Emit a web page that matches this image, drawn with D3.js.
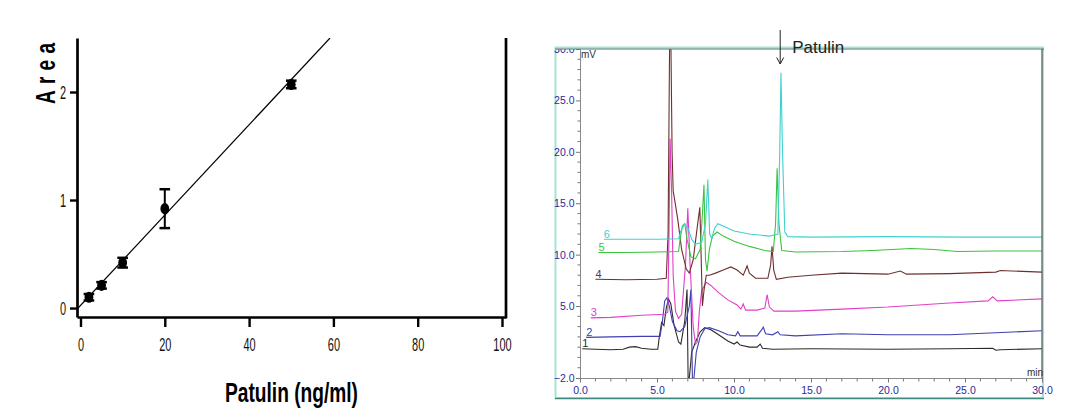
<!DOCTYPE html>
<html><head><meta charset="utf-8">
<script src="https://cdn.jsdelivr.net/npm/d3@7"></script>
<style>body{margin:0;background:#fff}svg{display:block}text{font-family:"Liberation Sans",Arial,sans-serif}</style>
</head><body><svg id="c" width="1077" height="420"></svg>
<script>
// ---------- calibration curve data ----------
const concentrations = [2, 5, 10, 20, 50];
const areaMeans = [0.10, 0.21, 0.42, 0.92, 2.07];
const areaErrors = [0.03, 0.03, 0.045, 0.18, 0.035];
const fitX = [-0.8, 59.2];
const fitY = [-0.01, 2.5];
const calXTicks = [0, 20, 40, 60, 80, 100];
const calYTicks = [0, 1, 2];
const calXTitle = "Patulin (ng/ml)";
const calYTitle = "Area";

// ---------- chromatogram data (time min, mV) ----------
const traceNames = ["1", "2", "3", "4", "5", "6"];
const traceColors = ["#2b2b2b", "#4040b0", "#e040c8", "#6e2f2f", "#3cc43c", "#40d0d0"];
const trace1 = [[0.15,0.85],[1,0.8],[2,0.75],[2.8,0.8],[3.2,1.0],[3.6,1.05],[4.0,0.9],[4.6,0.8],[5.05,0.8],[5.15,2.0],[5.3,3.4],[5.45,3.1],[5.6,4.8],[5.75,5.7],[5.9,5.2],[6.1,3.2],[6.4,1.5],[6.55,1.3],[6.8,3.5],[6.95,6.6],[7.02,-2.0],[7.1,-2.0],[7.25,0.5],[7.5,1.5],[7.8,2.5],[8.1,2.9],[8.5,2.7],[9.0,2.2],[9.6,1.6],[10.0,1.3],[10.2,1.5],[10.4,1.2],[11.0,1.0],[11.5,1.0],[11.7,1.3],[11.85,0.9],[12.5,0.8],[15,0.85],[20,0.8],[24,0.85],[26.8,0.9],[27.0,0.7],[27.3,0.75],[30,0.85]];
const trace2 = [[0.4,1.95],[2,2.0],[4,2.05],[5.2,2.05],[5.35,3.5],[5.5,5.5],[5.65,5.8],[5.8,5.0],[6.0,3.5],[6.3,2.6],[6.5,2.5],[6.8,3.0],[7.1,5.0],[7.2,6.6],[7.3,-2.0],[7.4,-2.0],[7.55,0.5],[7.8,2.0],[8.1,2.8],[8.4,2.9],[9.0,2.6],[9.6,2.2],[10.1,2.1],[10.25,2.5],[10.4,2.1],[11.5,2.1],[11.8,2.7],[11.9,2.95],[12.05,2.3],[12.5,2.2],[12.85,2.5],[13.0,2.2],[14,2.1],[17,2.3],[20,2.2],[24,2.2],[27,2.4],[30,2.6]];
const trace3 = [[0.7,3.85],[2,3.9],[4,4.1],[5.5,4.2],[5.7,4.4],[5.78,12],[5.85,21.3],[5.95,16],[6.05,8],[6.2,4.5],[6.4,3.8],[6.6,4.2],[6.85,9],[7.0,14.5],[7.15,9],[7.35,3.0],[7.5,1.3],[7.62,1.5],[7.75,4.5],[7.9,6.5],[8.2,7.3],[8.5,7.0],[9.0,6.3],[9.6,5.6],[10.2,5.1],[10.45,4.7],[10.6,5.2],[10.75,4.6],[11.5,4.6],[12.0,4.8],[12.15,6.1],[12.3,4.9],[12.6,4.5],[14,4.5],[17,4.7],[20,4.9],[24,5.3],[26.5,5.5],[26.8,5.9],[27.1,5.5],[30,5.7]];
const trace4 = [[1.0,7.6],[3,7.55],[5,7.6],[5.6,7.7],[5.72,12],[5.82,31],[5.9,31],[5.98,20],[6.05,16.2],[6.15,15.3],[6.35,13.4],[6.6,10.5],[6.9,8.6],[7.1,8.2],[7.35,9.5],[7.6,12.5],[7.78,14.6],[7.88,9],[7.95,5.0],[8.05,6.5],[8.2,8.0],[8.4,8.0],[8.8,8.2],[9.3,8.5],[9.8,8.8],[10.2,8.5],[10.6,8.0],[10.85,8.9],[11.0,8.2],[11.4,7.7],[12.2,7.7],[12.38,9.0],[12.47,10.8],[12.58,8.5],[12.75,7.6],[13.5,7.8],[15,8.0],[17,8.2],[20,8.1],[20.8,8.4],[21.2,8.1],[24,8.15],[27,8.3],[27.3,8.45],[30,8.3]];
const trace5 = [[1.2,10.2],[3,10.2],[5,10.25],[6.4,10.3],[6.5,11.5],[6.65,12.8],[6.8,13.0],[6.95,11.5],[7.2,9.8],[7.5,9.6],[7.8,10.5],[7.95,14],[8.05,16.8],[8.15,9.5],[8.25,8.4],[8.4,10.5],[8.6,11.8],[8.9,12.2],[9.3,11.8],[10,11.3],[11,10.8],[12,10.4],[12.55,10.3],[12.7,13],[12.8,18.4],[12.92,13],[13.1,10.4],[14,10.25],[17,10.3],[19,10.4],[21.5,10.6],[23,10.5],[24.5,10.3],[27,10.35],[30,10.35]];
const trace6 = [[1.55,11.5],[3,11.5],[5,11.5],[6.4,11.55],[6.55,12.3],[6.8,13.0],[7.0,12.6],[7.25,11.5],[7.5,11.0],[7.9,11.2],[8.15,13],[8.3,17.3],[8.42,12],[8.55,11.6],[8.75,12.6],[8.95,13.0],[9.4,12.7],[10,12.3],[11,12.0],[12.3,11.8],[12.85,12.0],[12.97,20],[13.05,27.7],[13.15,20],[13.3,12.2],[13.5,11.75],[15,11.7],[20,11.75],[25,11.7],[30,11.7]];
const traces = [trace1, trace2, trace3, trace4, trace5, trace6];
const chromXTicks = [0, 5, 10, 15, 20, 25, 30];
const chromYTicks = [-2, 5, 10, 15, 20, 25, 30];
const chromXMinor = [1,2,3,4,6,7,8,9,11,12,13,14,16,17,18,19,21,22,23,24,26,27,28,29];
const chromYMinor = [-1,0,1,2,3,4,6,7,8,9,11,12,13,14,16,17,18,19,21,22,23,24,26,27,28,29];
const patulinRT = 13.0;
const patulinLabel = "Patulin";

const svg = d3.select("#c");
const FONT = '"Liberation Sans", Arial, sans-serif';

// ================= LEFT PANEL =================
const cx = d3.scaleLinear().domain([-0.83, 100.95]).range([77, 506]);
const cy = d3.scaleLinear().domain([-0.083, 2.5]).range([317, 38]);
const gL = svg.append("g");

svg.append("clipPath").attr("id", "clipL").append("rect")
  .attr("x", cx.range()[0]).attr("y", cy.range()[1])
  .attr("width", cx.range()[1] - cx.range()[0]).attr("height", cy.range()[0] - cy.range()[1]);

const xAx = gL.append("g").attr("transform", `translate(0,${cy.range()[0]})`)
  .call(d3.axisBottom(cx).tickValues(calXTicks).tickSize(10).tickSizeOuter(0).tickPadding(11).tickFormat(d3.format("d")));
const yAx = gL.append("g").attr("transform", `translate(${cx.range()[0]},0)`)
  .call(d3.axisLeft(cy).tickValues(calYTicks).tickSize(7).tickSizeOuter(0).tickPadding(4).tickFormat(d3.format("d")));
[xAx, yAx].forEach(a => {
  a.select(".domain").attr("stroke", "#000").attr("stroke-width", 2.7);
  a.selectAll(".tick line").attr("stroke", "#000").attr("stroke-width", 2.4);
  a.selectAll(".tick text").attr("font-family", FONT).attr("font-size", 19).attr("fill", "#111")
    .attr("textLength", d => String(d).length * 6.1).attr("lengthAdjust", "spacingAndGlyphs");
});
// right frame line
gL.append("line").attr("x1", cx.range()[1]).attr("x2", cx.range()[1])
  .attr("y1", cy.range()[1]).attr("y2", cy.range()[0] + 1.3)
  .attr("stroke", "#000").attr("stroke-width", 2.7);

// fit line
gL.append("path").attr("clip-path", "url(#clipL)")
  .datum(fitX.map((v, i) => [v, fitY[i]]))
  .attr("d", d3.line().x(d => cx(d[0])).y(d => cy(d[1])))
  .attr("fill", "none").attr("stroke", "#000").attr("stroke-width", 1.2);

// error bars
const eb = gL.append("g").selectAll("g").data(concentrations).join("g");
eb.append("line").attr("x1", d => cx(d)).attr("x2", d => cx(d))
  .attr("y1", (d, i) => cy(areaMeans[i] + areaErrors[i])).attr("y2", (d, i) => cy(areaMeans[i] - areaErrors[i]))
  .attr("stroke", "#000").attr("stroke-width", 2);
[1, -1].forEach(s => {
  eb.append("line").attr("x1", d => cx(d) - 5.3).attr("x2", d => cx(d) + 5.3)
    .attr("y1", (d, i) => cy(areaMeans[i] + s * areaErrors[i])).attr("y2", (d, i) => cy(areaMeans[i] + s * areaErrors[i]))
    .attr("stroke", "#000").attr("stroke-width", 2.5);
});
// markers
gL.append("g").selectAll("ellipse").data(concentrations).join("ellipse")
  .attr("cx", d => cx(d)).attr("cy", (d, i) => cy(areaMeans[i]))
  .attr("rx", 4.4).attr("ry", 5.6).attr("fill", "#000");

// titles
gL.append("text").attr("x", 225).attr("y", 402).attr("font-family", FONT)
  .attr("font-weight", "bold").attr("font-size", 27).attr("fill", "#000")
  .attr("textLength", 133).attr("lengthAdjust", "spacingAndGlyphs").text(calXTitle);
gL.append("text").attr("transform", "translate(55,104) rotate(-90) scale(1,1.45)")
  .attr("font-family", FONT).attr("font-weight", "bold").attr("font-size", 19).attr("fill", "#000")
  .attr("textLength", 61).attr("lengthAdjust", "spacing").text(calYTitle);

// ================= RIGHT PANEL =================
const tx = d3.scaleLinear().domain([0, 30]).range([580, 1042]);
const my = d3.scaleLinear().domain([-2, 30]).range([378, 49]);
const gR = svg.append("g");

// outer frame
gR.append("rect").attr("x", 555.5).attr("y", 47.5).attr("width", 487.5).attr("height", 350.5)
  .attr("fill", "none").attr("stroke", "#a6e3d3").attr("stroke-width", 2);
gR.append("line").attr("x1", 555).attr("x2", 1044).attr("y1", 398.5).attr("y2", 398.5)
  .attr("stroke", "#3f8a80").attr("stroke-width", 1.5);

svg.append("clipPath").attr("id", "clipR").append("rect")
  .attr("x", tx.range()[0]).attr("y", my.range()[1])
  .attr("width", tx.range()[1] - tx.range()[0]).attr("height", my.range()[0] - my.range()[1]);

// minor ticks
gR.append("g").selectAll("line").data(chromXMinor).join("line")
  .attr("x1", d => tx(d)).attr("x2", d => tx(d)).attr("y1", my(-2)).attr("y2", my(-2) + 3.5)
  .attr("stroke", "#777").attr("stroke-width", 1);
gR.append("g").selectAll("line").data(chromYMinor).join("line")
  .attr("x1", tx(0) - 2.5).attr("x2", tx(0) + 1).attr("y1", d => my(d)).attr("y2", d => my(d))
  .attr("stroke", "#777").attr("stroke-width", 1);

// tick label clip (top label cut by frame)
svg.append("clipPath").attr("id", "clipTick").append("rect")
  .attr("x", 540).attr("y", 49).attr("width", 520).attr("height", 360);

const xAxR = gR.append("g").attr("transform", `translate(0,${my(-2)})`)
  .call(d3.axisBottom(tx).tickValues(chromXTicks).tickSize(4.5).tickSizeOuter(0).tickPadding(4).tickFormat(d3.format(".1f")));
const yWrap = gR.append("g").attr("clip-path", "url(#clipTick)");
const yAxR = yWrap.append("g").attr("transform", `translate(${tx(0)},0)`)
  .call(d3.axisLeft(my).tickValues(chromYTicks).tickSize(4).tickSizeOuter(0).tickPadding(1.5).tickFormat(d3.format(".1f")));
[xAxR, yAxR].forEach(a => {
  a.select(".domain").attr("stroke", "#8a8a8a").attr("stroke-width", 1);
  a.selectAll(".tick line").attr("stroke", "#777").attr("stroke-width", 1);
  a.selectAll(".tick text").attr("font-family", FONT).attr("font-size", 10.5).attr("fill", "#2a2a9a");
});

// traces
const line = d3.line().x(d => tx(d[0])).y(d => my(d[1]));
gR.append("g").attr("clip-path", "url(#clipR)").selectAll("path").data(traces).join("path")
  .attr("d", line).attr("fill", "none")
  .attr("stroke", (d, i) => traceColors[i]).attr("stroke-width", 1.1);
// trace labels
gR.append("g").selectAll("text").data(traces).join("text")
  .attr("x", d => tx(d[0][0])).attr("y", d => my(d[0][1]) - 1.5)
  .attr("font-family", FONT).attr("font-size", 11)
  .attr("fill", (d, i) => traceColors[i]).text((d, i) => traceNames[i]);

// inner frame lines
gR.append("line").attr("x1", 555).attr("x2", 1044).attr("y1", my(30)).attr("y2", my(30))
  .attr("stroke", "#4c7c74").attr("stroke-width", 1.2);
gR.append("line").attr("x1", tx(30)).attr("x2", tx(30)).attr("y1", my(30)).attr("y2", my(-2))
  .attr("stroke", "#555").attr("stroke-width", 1.2);

// unit labels
gR.append("text").attr("x", tx(0) + 1).attr("y", 58).attr("font-family", FONT).attr("font-size", 10)
  .attr("fill", "#333").text("mV");
gR.append("text").attr("x", 1027).attr("y", 376).attr("font-family", FONT).attr("font-size", 10)
  .attr("fill", "#333").text("min");

// patulin annotation
const ax = tx(patulinRT);
gR.append("line").attr("x1", ax).attr("x2", ax).attr("y1", 30).attr("y2", 64)
  .attr("stroke", "#222").attr("stroke-width", 1);
gR.append("path").attr("d", `M${ax - 3.5},57.5L${ax},64L${ax + 3.5},57.5`)
  .attr("fill", "none").attr("stroke", "#222").attr("stroke-width", 1);
gR.append("text").attr("x", ax + 12).attr("y", 53).attr("font-family", FONT).attr("font-size", 17)
  .attr("fill", "#222").text(patulinLabel);
</script></body></html>
